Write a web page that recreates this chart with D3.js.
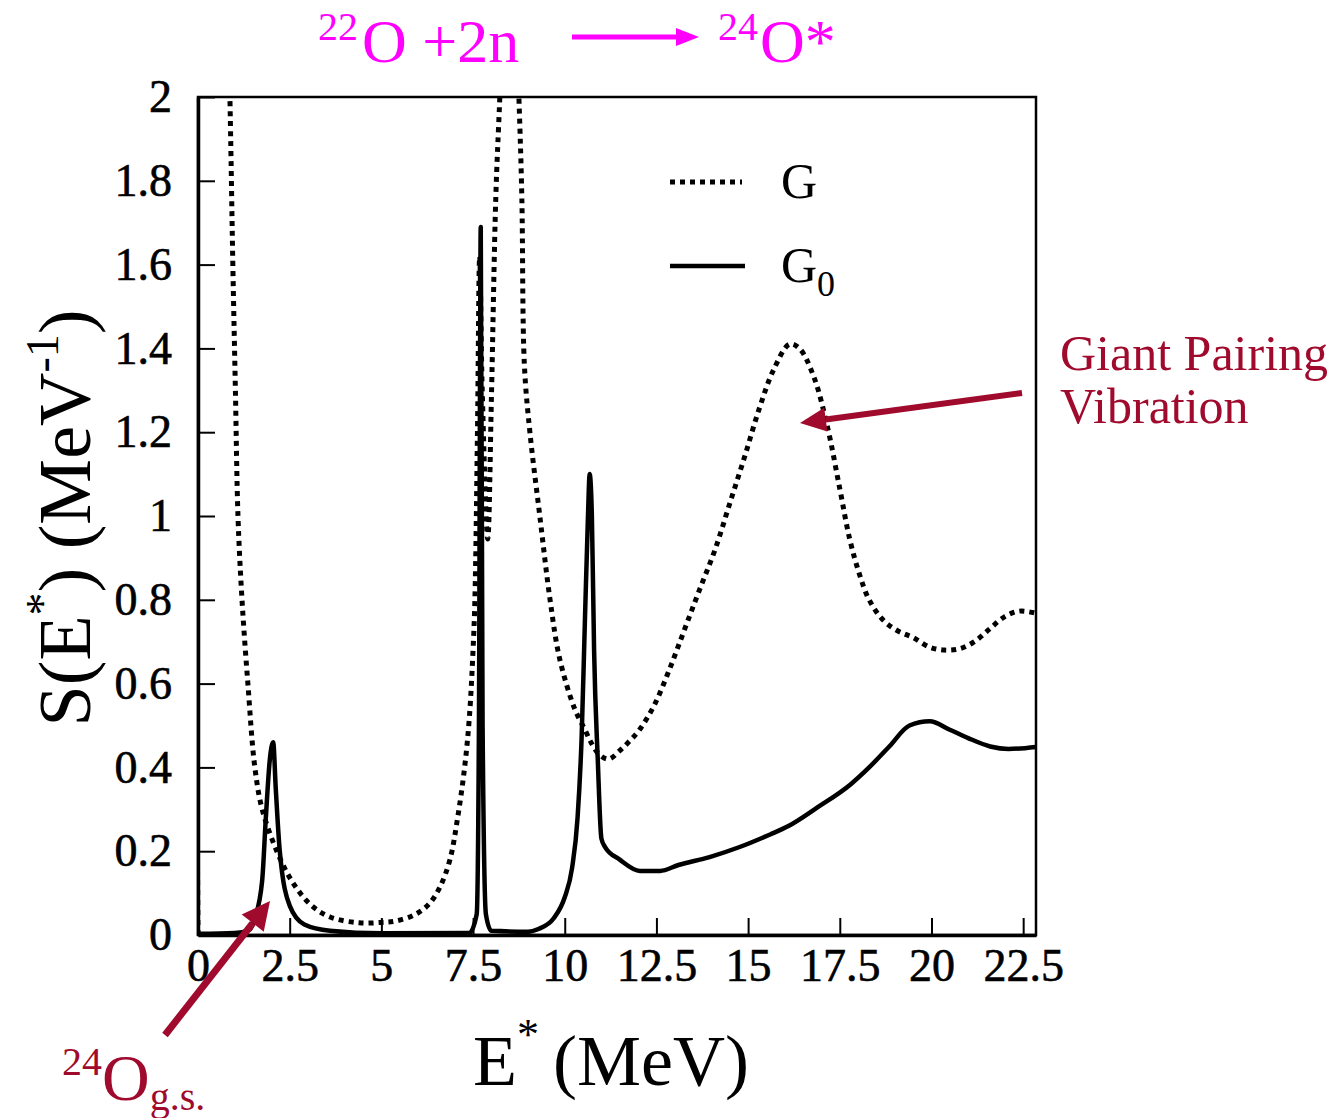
<!DOCTYPE html>
<html>
<head>
<meta charset="utf-8">
<script src="https://cdn.jsdelivr.net/npm/d3@7"></script>
<style>
  body { margin: 0; background: #fff; }
  text { font-family: "Liberation Serif", "DejaVu Serif", serif; }
</style>
</head>
<body>
<script>
const svgWidth = 1341;
const svgHeight = 1118;

// excitation energies E* (MeV) and strengths S (MeV^-1)
const gEnergy = [0, 0, 0.5, 0.87, 0.95, 1.02, 1.09, 1.2, 1.36, 1.55, 1.75, 2.15, 2.55, 3.05, 3.6, 4.4, 5.0, 5.37, 5.9, 6.3, 6.6, 6.87, 7.08, 7.27, 7.4, 7.5, 7.55, 7.62, 7.68, 7.75, 7.9, 8.0, 8.12, 8.23, 8.5, 8.75, 8.83, 8.9, 9.05, 9.32, 9.6, 9.86, 10.27, 10.55, 10.74, 10.95, 11.2, 11.5, 11.77, 12.04, 12.45, 12.86, 13.27, 13.68, 14.1, 14.5, 14.9, 15.3, 15.7, 16.13, 16.4, 16.8, 17.17, 17.5, 17.77, 18.04, 18.3, 18.7, 19.1, 19.5, 19.95, 20.35, 20.76, 21.17, 21.58, 22.0, 22.4, 22.85];
const gStrength = [0, 2.6, 3.5, 2.0, 1.6, 1.3, 1.0, 0.8, 0.6, 0.4, 0.3, 0.2, 0.13, 0.074, 0.043, 0.029, 0.03, 0.033, 0.048, 0.074, 0.115, 0.18, 0.28, 0.40, 0.52, 0.68, 0.8, 1.2, 1.62, 1.3, 0.945, 1.28, 1.76, 2.0, 2.6, 2.0, 1.76, 1.36, 1.2, 1.0, 0.8, 0.66, 0.54, 0.49, 0.456, 0.43, 0.42, 0.44, 0.463, 0.49, 0.55, 0.635, 0.73, 0.825, 0.92, 1.03, 1.14, 1.255, 1.35, 1.41, 1.40, 1.33, 1.21, 1.065, 0.945, 0.86, 0.80, 0.75, 0.725, 0.71, 0.687, 0.68, 0.683, 0.70, 0.73, 0.76, 0.773, 0.768];

const g0Energy = [0, 1.0, 1.4, 1.55, 1.75, 1.85, 1.96, 2.05, 2.12, 2.23, 2.5, 2.9, 3.6, 5.0, 7.4, 7.6, 7.66, 7.71, 7.76, 7.85, 8.0, 9.0, 9.3, 9.7, 10.0, 10.2, 10.35, 10.46, 10.55, 10.63, 10.68, 10.74, 10.8, 10.9, 11.0, 11.1, 11.5, 12.05, 12.6, 13.1, 13.95, 14.77, 15.6, 16.1, 16.9, 17.8, 18.3, 18.85, 19.4, 19.95, 20.5, 21.0, 21.6, 22.1, 22.85];
const g0Strength = [0.003, 0.005, 0.012, 0.04, 0.13, 0.28, 0.42, 0.46, 0.35, 0.2, 0.07, 0.025, 0.01, 0.004, 0.005, 0.05, 0.5, 1.69, 0.5, 0.05, 0.01, 0.008, 0.015, 0.04, 0.09, 0.16, 0.28, 0.47, 0.75, 0.99, 1.10, 1.0, 0.68, 0.42, 0.23, 0.21, 0.18, 0.153, 0.153, 0.167, 0.186, 0.21, 0.24, 0.26, 0.305, 0.36, 0.40, 0.45, 0.50, 0.51, 0.49, 0.47, 0.45, 0.444, 0.449];

const xTicks = [0, 2.5, 5, 7.5, 10, 12.5, 15, 17.5, 20, 22.5];
const yTicks = [0, 0.2, 0.4, 0.6, 0.8, 1, 1.2, 1.4, 1.6, 1.8, 2];

const titleColor = "#ff00ff";
const noteColor = "#a00a2c";

const plot = {left: 198, right: 1036, top: 97, bottom: 935};

const svg = d3.select("body").append("svg")
    .attr("width", svgWidth)
    .attr("height", svgHeight);

svg.append("rect").attr("width", svgWidth).attr("height", svgHeight).attr("fill", "#fff");

const x = d3.scaleLinear().domain([0, 22.85]).range([plot.left, plot.right]);
const y = d3.scaleLinear().domain([0, 2]).range([plot.bottom, plot.top]);

const fmt = d3.format(".1~f");

// clip curves to the frame
svg.append("defs").append("clipPath").attr("id", "plotclip")
    .append("rect")
    .attr("x", plot.left).attr("y", plot.top)
    .attr("width", plot.right - plot.left).attr("height", plot.bottom - plot.top);

// axes with inward ticks
const xAxis = svg.append("g")
    .attr("transform", `translate(0,${plot.bottom})`)
    .call(d3.axisBottom(x).tickValues(xTicks).tickFormat(fmt).tickSizeInner(-17).tickSizeOuter(0).tickPadding(13));
const yAxis = svg.append("g")
    .attr("transform", `translate(${plot.left},0)`)
    .call(d3.axisLeft(y).tickValues(yTicks).tickFormat(fmt).tickSizeInner(-17).tickSizeOuter(0).tickPadding(26));

[xAxis, yAxis].forEach(a => {
    a.selectAll(".tick line").attr("stroke", "#000").attr("stroke-width", 2);
    a.selectAll(".tick text")
        .attr("font-family", "Liberation Serif, serif")
        .attr("font-size", 46)
        .attr("fill", "#000")
        .attr("stroke", "#000").attr("stroke-width", 0.6);
    a.select(".domain").attr("stroke", "#000").attr("stroke-width", 3.5);
});

// frame
svg.append("rect")
    .attr("x", plot.left).attr("y", plot.top)
    .attr("width", plot.right - plot.left).attr("height", plot.bottom - plot.top)
    .attr("fill", "none").attr("stroke", "#000").attr("stroke-width", 2.5);

const curves = svg.append("g").attr("clip-path", "url(#plotclip)");

// G
curves.append("path")
    .datum(d3.zip(gEnergy, gStrength))
    .attr("d", d3.line().x(d => x(d[0])).y(d => y(d[1])).curve(d3.curveCatmullRom.alpha(0.5)))
    .attr("fill", "none").attr("stroke", "#000")
    .attr("stroke-width", 5).attr("stroke-dasharray", "5,5");

// G0
curves.append("path")
    .datum(d3.zip(g0Energy, g0Strength))
    .attr("d", d3.line().x(d => x(d[0])).y(d => y(d[1])).curve(d3.curveMonotoneX))
    .attr("fill", "none").attr("stroke", "#000")
    .attr("stroke-width", 4.5).attr("stroke-linejoin", "round");

// legend
const legend = svg.append("g");
legend.append("line").attr("x1", 670).attr("x2", 742).attr("y1", 182).attr("y2", 182)
    .attr("stroke", "#000").attr("stroke-width", 5).attr("stroke-dasharray", "5,5");
legend.append("text").attr("x", 781).attr("y", 198).attr("font-size", 50).text("G");
legend.append("line").attr("x1", 670).attr("x2", 745).attr("y1", 266).attr("y2", 266)
    .attr("stroke", "#000").attr("stroke-width", 4.5);
const g0Label = legend.append("text").attr("x", 781).attr("y", 282).attr("font-size", 50);
g0Label.append("tspan").text("G");
g0Label.append("tspan").attr("font-size", 36).attr("dy", 14).text("0");

// axis titles
const yTitle = svg.append("text")
    .attr("transform", "translate(90,518) rotate(-90)")
    .attr("text-anchor", "middle")
    .attr("font-size", 74);
yTitle.append("tspan").text("S(E");
yTitle.append("tspan").attr("font-size", 46).attr("dy", -32).text("*");
yTitle.append("tspan").attr("dy", 32).text(") (MeV");
yTitle.append("tspan").attr("font-size", 46).attr("dy", -32).text("-1");
yTitle.append("tspan").attr("dy", 32).text(")");

const xTitle = svg.append("text")
    .attr("x", 473).attr("y", 1085)
    .attr("font-size", 72);
xTitle.append("tspan").text("E");
xTitle.append("tspan").attr("font-size", 44).attr("dy", -36).text("*");
xTitle.append("tspan").attr("dy", 36).attr("dx", 14).text("(MeV)");

// reaction title
const title = svg.append("g").attr("fill", titleColor);
const t1 = title.append("text").attr("x", 318).attr("y", 62).attr("font-size", 62);
t1.append("tspan").attr("font-size", 40).attr("dy", -22).text("22");
t1.append("tspan").attr("dy", 22).attr("dx", 4).text("O +2n");
title.append("line").attr("x1", 572).attr("x2", 682).attr("y1", 37).attr("y2", 37)
    .attr("stroke", titleColor).attr("stroke-width", 5);
title.append("path").attr("d", "M676,28 L699,37 L676,46 Z");
const t2 = title.append("text").attr("x", 718).attr("y", 62).attr("font-size", 62);
t2.append("tspan").attr("font-size", 40).attr("dy", -22).text("24");
t2.append("tspan").attr("dy", 22).attr("dx", 2).text("O*");

// annotations
function arrow(x1, y1, x2, y2, width, headLen, headHalf) {
    const ang = Math.atan2(y2 - y1, x2 - x1);
    const bx = x2 - headLen * Math.cos(ang), by = y2 - headLen * Math.sin(ang);
    const nx = -Math.sin(ang), ny = Math.cos(ang);
    svg.append("line").attr("x1", x1).attr("y1", y1).attr("x2", bx).attr("y2", by)
        .attr("stroke", noteColor).attr("stroke-width", width);
    svg.append("path")
        .attr("d", `M${x2},${y2} L${bx + nx * headHalf},${by + ny * headHalf} L${bx - nx * headHalf},${by - ny * headHalf} Z`)
        .attr("fill", noteColor);
}
arrow(1022, 393, 800, 423, 6, 26, 12);
arrow(165, 1035, 270, 901, 7, 28, 14);

svg.append("text").attr("x", 1060).attr("y", 370).attr("font-size", 50).attr("fill", noteColor).text("Giant Pairing");
svg.append("text").attr("x", 1060).attr("y", 423).attr("font-size", 50).attr("fill", noteColor).text("Vibration");

const gs = svg.append("text").attr("x", 62).attr("y", 1100).attr("font-size", 66).attr("fill", noteColor);
gs.append("tspan").attr("font-size", 40).attr("dy", -25).text("24");
gs.append("tspan").attr("dy", 25).text("O");
gs.append("tspan").attr("font-size", 40).attr("dy", 10).text("g.s.");
</script>
</body>
</html>
